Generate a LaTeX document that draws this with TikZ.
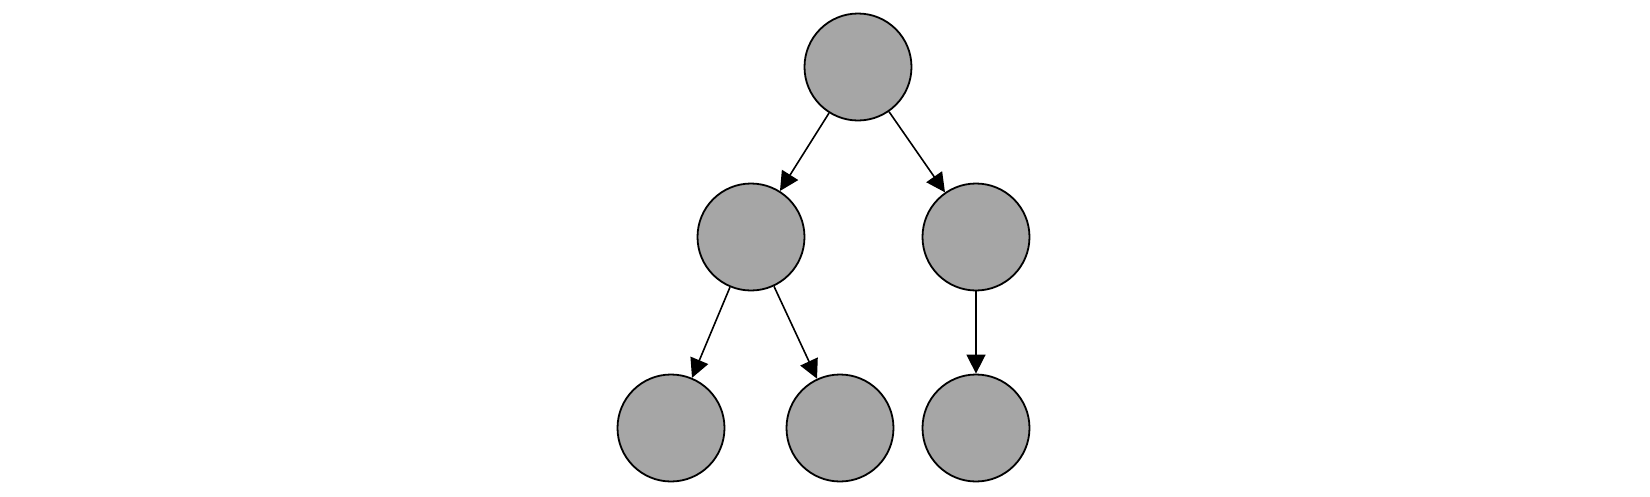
\documentclass[tikz,border=0pt]{standalone}
\usetikzlibrary{arrows.meta}
\begin{document}
\begin{tikzpicture}[x=1pt,y=-1pt,
  nd/.style={circle,draw=black,line width=1.8pt,fill=black!35,minimum size=107pt,inner sep=0pt},
  ed/.style={line width=1.6pt,-{Triangle[length=19pt,width=19pt]}}]
\useasboundingbox (0,0) rectangle (1650,496);
\node[nd] (r) at (858,67) {};
\node[nd] (a) at (751,237) {};
\node[nd] (b) at (976,237) {};
\node[nd] (c) at (671,428) {};
\node[nd] (d) at (840,428) {};
\node[nd] (e) at (976,428) {};
\draw[ed] (r) -- (a);
\draw[ed] (r) -- (b);
\draw[ed] (a) -- (c);
\draw[ed] (a) -- (d);
\draw[ed] (b) -- (e);
\end{tikzpicture}
\end{document}
